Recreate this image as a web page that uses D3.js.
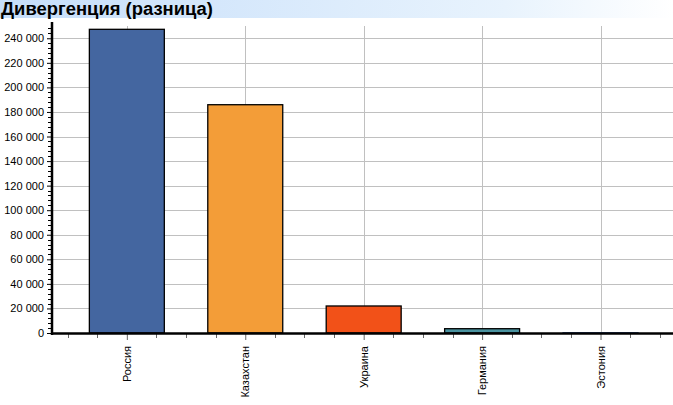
<!DOCTYPE html>
<html><head><meta charset="utf-8">
<script src="https://cdn.jsdelivr.net/npm/d3@7"></script>
<style>
html,body{margin:0;padding:0;background:#fff;}
svg{display:block;font-family:Arial,"Liberation Sans",sans-serif;}
</style></head>
<body>
<script>
const title = "Дивергенция (разница)";
const categories = ["Россия","Казахстан","Украина","Германия","Эстония"];
const values = [247300, 185900, 22000, 3500, 200];
const colors = ["#4466a0","#f39d38","#f25118","#4a93a0","#2f4f90"];
const yTicks = [0,20000,40000,60000,80000,100000,120000,140000,160000,180000,200000,220000,240000];

const W = 673, H = 405;
const svg = d3.select("body").append("svg").attr("width", W).attr("height", H);

// title band
const defs = svg.append("defs");
const g1 = defs.append("linearGradient").attr("id","tg").attr("x1","0").attr("x2","1");
g1.append("stop").attr("offset","0").attr("stop-color","#c6defa");
g1.append("stop").attr("offset","0.75").attr("stop-color","#e8f3fd");
g1.append("stop").attr("offset","1").attr("stop-color","#ffffff");
svg.append("rect").attr("x",0).attr("y",0).attr("width",W).attr("height",18).attr("fill","url(#tg)");
svg.append("text").attr("x",1).attr("y",14.5).attr("font-size",18).attr("font-weight","bold")
  .attr("fill","#000").attr("textLength",212).attr("lengthAdjust","spacingAndGlyphs").text(title);

const leftX = 52, zeroY = 333;
const y = d3.scaleLinear().domain([0,250000]).range([zeroY, zeroY - 250000/20000*24.56]);
const x = d3.scaleLinear().domain([-0.632, 4.612]).range([leftX, W]);
const bw = x(0.633) - x(0);
const topY = y(250000);

// grid
const grid = svg.append("g");
grid.selectAll("line.h").data(yTicks.filter(d=>d>0)).enter().append("line")
  .attr("x1",leftX).attr("x2",W).attr("y1",d=>Math.round(y(d))+0.5).attr("y2",d=>Math.round(y(d))+0.5)
  .attr("stroke","#c0c0c0").attr("stroke-width",1);
grid.selectAll("line.v").data(categories.map((c,i)=>i)).enter().append("line")
  .attr("x1",d=>Math.round(x(d))+0.5).attr("x2",d=>Math.round(x(d))+0.5).attr("y1",topY).attr("y2",zeroY)
  .attr("stroke","#c0c0c0").attr("stroke-width",1);

// bars
svg.selectAll("rect.bar").data(values).enter().append("rect")
  .attr("x",(d,i)=>x(i)-bw/2).attr("width",bw)
  .attr("y",d=>y(d)).attr("height",d=>zeroY - y(d))
  .attr("fill",(d,i)=>colors[i])
  .attr("stroke",(d,i)=> (zeroY - y(values[i]) < 1.5) ? colors[i] : "#000")
  .attr("stroke-width",1.3);

// y axis
const yAxis = d3.axisLeft(y).tickValues(yTicks).tickSize(5).tickPadding(3)
  .tickFormat(d => d3.format(",")(d).replace(/,/g," "));
const ya = svg.append("g").attr("transform",`translate(${leftX},0)`).call(yAxis);
ya.select(".domain").remove();
ya.selectAll("text").attr("font-size",11).attr("fill","#000").attr("font-family","Arial, 'Liberation Sans', sans-serif");
ya.selectAll("line").attr("stroke","#000");
const minorY = d3.range(0, 250001, 4000).filter(d => d % 20000 !== 0);
svg.append("g").selectAll("line").data(minorY).enter().append("line")
  .attr("x1",leftX-4).attr("x2",leftX).attr("y1",d=>Math.round(y(d))+0.5).attr("y2",d=>Math.round(y(d))+0.5)
  .attr("stroke","#000");
svg.append("line").attr("x1",leftX).attr("x2",leftX).attr("y1",topY-4).attr("y2",zeroY+2)
  .attr("stroke","#000").attr("stroke-width",2.5);

// x axis
const xAxis = d3.axisBottom(x).tickValues(categories.map((c,i)=>i)).tickSize(6).tickFormat("");
const xa = svg.append("g").attr("transform",`translate(0,${zeroY+1})`).call(xAxis);
xa.select(".domain").remove();
xa.selectAll("line").attr("stroke","#666");
const minorX = d3.range(-0.5, 4.51, 0.25).filter(d => Math.abs(d - Math.round(d)) > 0.01);
svg.append("g").selectAll("line").data(minorX).enter().append("line")
  .attr("x1",d=>Math.round(x(d))+0.5).attr("x2",d=>Math.round(x(d))+0.5).attr("y1",zeroY+1).attr("y2",zeroY+5)
  .attr("stroke","#666");
svg.append("line").attr("x1",leftX-1).attr("x2",W).attr("y1",zeroY+0.5).attr("y2",zeroY+0.5)
  .attr("stroke","#000").attr("stroke-width",2.5);

// x labels
svg.append("g").selectAll("text").data(categories).enter().append("text")
  .attr("transform",(d,i)=>`translate(${x(i)+4},${346}) rotate(-90)`)
  .attr("text-anchor","end").attr("font-size",11).attr("fill","#000").text(d=>d);
</script>
</body></html>
